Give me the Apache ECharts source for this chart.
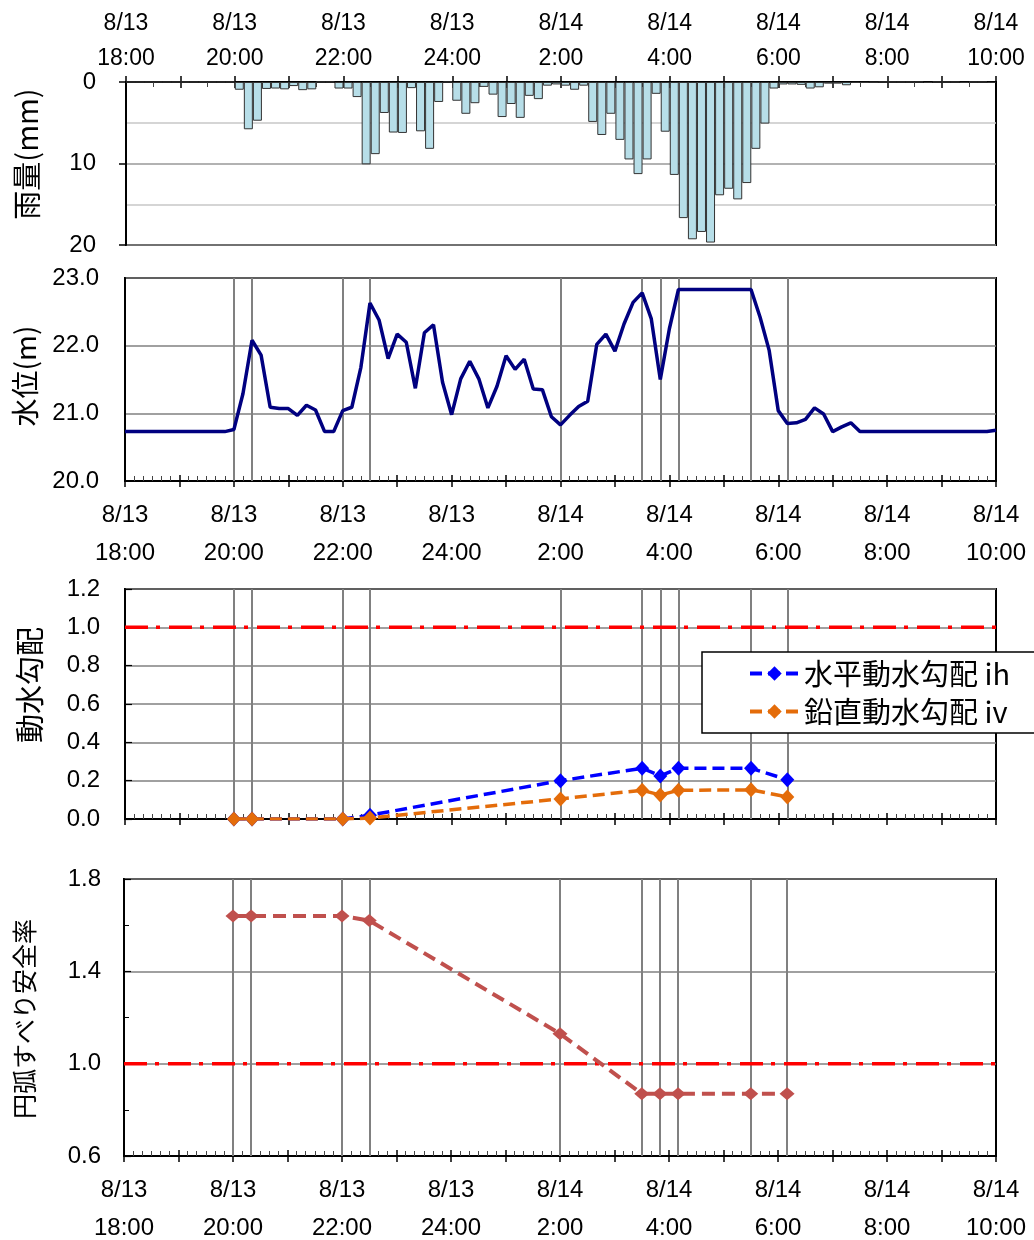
<!DOCTYPE html>
<html><head><meta charset="utf-8">
<script src="https://cdn.jsdelivr.net/npm/echarts@6/dist/echarts.min.js"></script>
<style>html,body{margin:0;padding:0;background:#fff}#c{width:1034px;height:1240px}</style>
</head><body><div id="c"></div><script>
// x positions are minutes after 8/13 18:00
const tickLabels = ['8/13\n18:00','8/13\n20:00','8/13\n22:00','8/13\n24:00','8/14\n2:00','8/14\n4:00','8/14\n6:00','8/14\n8:00','8/14\n10:00'];
// 10-minute rainfall (mm), 18:00 .. 9:50
const rainfall10min = [
 0,0,0,0,0,0,0,0,0,0,0,0,
 0.95,5.8,4.75,0.85,0.8,0.9,
 0.5,1.0,0.9,0,0,0.8,
 0.8,1.85,10.1,8.85,3.8,6.2,
 6.25,0.75,6.05,8.2,2.45,0,
 2.3,3.9,2.6,0.6,1.55,4.3,
 2.7,4.4,1.7,2.1,0.45,0.3,
 0.45,0.95,0.45,4.9,6.5,3.9,
 7.1,9.5,11.3,9.5,1.45,6.1,
 11.4,16.7,19.3,18.4,19.7,13.9,
 13.1,14.4,12.4,8.2,5.1,0.8,
 0.3,0.3,0.35,0.8,0.65,0.2,
 0.2,0.4,0.1,0.1,0.05,0,
 0,0,0,0,0.1,0,
 0,0,0.1,0,0,0.1];
// water level (m) every 10 minutes, 18:00 .. 10:00
const waterLevel = [
 20.73,20.73,20.73,20.73,20.73,20.73,20.73,20.73,20.73,20.73,20.73,20.73,
 20.76,21.29,22.08,21.86,21.09,21.07,
 21.07,20.97,21.12,21.05,20.73,20.73,
 21.04,21.09,21.68,22.63,22.38,21.81,
 22.17,22.05,21.37,22.19,22.31,21.46,
 20.98,21.51,21.77,21.51,21.08,21.40,
 21.85,21.65,21.80,21.36,21.35,20.95,
 20.83,20.97,21.10,21.18,22.02,22.17,
 21.92,22.32,22.64,22.78,22.40,21.50,
 22.25,22.83,22.83,22.83,22.83,22.83,
 22.83,22.83,22.83,22.83,22.42,21.93,
 21.04,20.85,20.86,20.91,21.08,20.99,
 20.73,20.80,20.86,20.73,20.73,20.73,
 20.73,20.73,20.73,20.73,20.73,20.73,
 20.73,20.73,20.73,20.73,20.73,20.73,
 20.75];
// analysis times: 20:00, 20:20, 22:00, 22:30, 2:00, 3:30, 3:50, 4:10, 5:30, 6:10
const analysisMinutes = [120,140,240,270,480,570,590,610,690,730];
const gradientH = [0,0,0,0.02,0.2,0.265,0.225,0.265,0.265,0.205];
const gradientV = [0,0,0,0.005,0.105,0.15,0.125,0.15,0.152,0.115];
const safetyFactor = [1.64,1.64,1.64,1.62,1.13,0.87,0.87,0.87,0.87,0.87];
const thresholdValue = 1.0;
const seriesNames = ['水平動水勾配 ih','鉛直動水勾配 iv'];

const NUM = '"Liberation Sans", Arial, sans-serif';
const JP = '"Noto Sans CJK JP", sans-serif';
const fmt = v => (v % 120 === 0 ? tickLabels[v / 120] : '');
const dashDot = [23, 8, 4, 9];

function xMain(g, pos, showLabel, lh, margin, fs) {
  return { type:'value', gridIndex:g, position:pos, min:0, max:960, interval:60,
    axisLine:{show:true, onZero:false, lineStyle:{color:'#000', width:2}},
    axisTick:{show:true, inside:false, length:6, lineStyle:{color:'#000', width:1.5}},
    axisLabel:{show:showLabel, formatter:fmt, fontSize:fs, lineHeight:lh, margin:margin, color:'#000', fontFamily:NUM},
    splitLine:{show:false} };
}
function xMinor(g, pos, split) {
  return { type:'value', gridIndex:g, position:pos, min:0, max:960, interval:60,
    axisLine:{show:false, onZero:false},
    axisTick:{show:true, inside:true, length:6, lineStyle:{color:'#000', width:1.5}},
    minorTick:{show:true, splitNumber:split, length:5, lineStyle:{color:'#444', width:1}},
    axisLabel:{show:false}, splitLine:{show:false} };
}
const vLines = { silent:true, symbol:'none', z:1, label:{show:false},
  lineStyle:{color:'#808080', width:2, type:'solid'},
  emphasis:{disabled:true},
  data: analysisMinutes.map(m => ({xAxis:m})) };
const pairs = (xs, ys) => xs.map((x, i) => [x, ys[i]]);
const gridBase = {right:38, show:true, borderColor:'#000', borderWidth:2, outerBoundsMode:'none', containLabel:false};

const chart = echarts.init(document.getElementById('c'), null, {renderer:'canvas'});
chart.setOption({
  animation:false,
  backgroundColor:'#fff',
  grid:[
    Object.assign({left:126, top:82, height:163}, gridBase),
    Object.assign({left:125, top:278, height:203}, gridBase),
    Object.assign({left:125, top:589, height:230}, gridBase),
    Object.assign({left:124, top:879, height:277}, gridBase)
  ],
  xAxis:[
    xMain(0,'top',true,35,6,23), xMinor(0,'top',2),
    xMain(1,'bottom',true,38,15,24), xMinor(1,'bottom',6),
    xMain(2,'bottom',false,38,15,24), xMinor(2,'bottom',6),
    xMain(3,'bottom',true,38,15,24), xMinor(3,'bottom',6)
  ],
  yAxis:[
    { gridIndex:0, type:'value', min:0, max:20, interval:10, inverse:true,
      axisLine:{show:true, lineStyle:{color:'#000', width:2}},
      axisTick:{show:true, inside:false, length:7, lineStyle:{color:'#000', width:1.5}},
      minorTick:{show:false, splitNumber:2},
      axisLabel:{fontSize:24, margin:30, color:'#000', fontFamily:NUM},
      splitLine:{show:true, lineStyle:{color:'#999', width:1.5}},
      minorSplitLine:{show:true, lineStyle:{color:'#c8c8c8', width:1.5}} },
    { gridIndex:1, type:'value', min:20, max:23, interval:1,
      axisLine:{show:true, lineStyle:{color:'#000', width:2}},
      axisTick:{show:false},
      axisLabel:{fontSize:24, margin:26, color:'#000', fontFamily:NUM, formatter:v => v.toFixed(1)},
      splitLine:{show:true, lineStyle:{color:'#808080', width:1.5}} },
    { gridIndex:2, type:'value', min:0, max:1.2, interval:0.2,
      axisLine:{show:true, lineStyle:{color:'#000', width:2}},
      axisTick:{show:true, inside:true, length:7, lineStyle:{color:'#000', width:1.2}},
      axisLabel:{fontSize:24, margin:25, color:'#000', fontFamily:NUM, formatter:v => v.toFixed(1)},
      splitLine:{show:true, lineStyle:{color:'#808080', width:1.5}} },
    { gridIndex:3, type:'value', min:0.6, max:1.8, interval:0.4,
      axisLine:{show:true, lineStyle:{color:'#000', width:2}},
      axisTick:{show:true, inside:true, length:7, lineStyle:{color:'#000', width:1.2}},
      minorTick:{show:true, splitNumber:2, length:5, lineStyle:{color:'#000', width:1}},
      axisLabel:{fontSize:24, margin:23, color:'#000', fontFamily:NUM, formatter:v => v.toFixed(1)},
      splitLine:{show:true, lineStyle:{color:'#808080', width:1.5}} }
  ],
  legend:{
    data:seriesNames, orient:'vertical', left:702, top:652,
    padding:[7,26,7,46], itemGap:9, itemWidth:49, itemHeight:18,
    backgroundColor:'#fff', borderColor:'#000', borderWidth:1.5, borderRadius:0,
    lineStyle:{width:4},
    textStyle:{fontSize:29, color:'#000', fontFamily:JP, lineHeight:29}
  },
  graphic:[
    {type:'text', x:27, y:154, rotation:Math.PI/2, style:{text:'雨量(mm)', font:'29px "Noto Sans CJK JP"', fill:'#000', textAlign:'center', textVerticalAlign:'middle'}},
    {type:'text', x:25, y:376, rotation:Math.PI/2, style:{text:'水位(m)', font:'28px "Noto Sans CJK JP"', fill:'#000', textAlign:'center', textVerticalAlign:'middle'}},
    {type:'text', x:30, y:685, rotation:Math.PI/2, style:{text:'動水勾配', font:'29px "Noto Sans CJK JP"', fill:'#000', textAlign:'center', textVerticalAlign:'middle'}},
    {type:'text', x:24, y:1019, rotation:Math.PI/2, style:{text:'円弧すべり安全率', font:'25px "Noto Sans CJK JP"', fill:'#000', textAlign:'center', textVerticalAlign:'middle'}}
  ],
  series:[
    { name:'雨量', type:'bar', xAxisIndex:0, yAxisIndex:0, barWidth:9,
      data: rainfall10min.map((v, i) => [i * 10 + 5, v]),
      itemStyle:{color:'#B7DEE8', borderColor:'#333', borderWidth:1} },
    { name:'水位', type:'line', xAxisIndex:2, yAxisIndex:1, z:3, symbol:'none',
      data: waterLevel.map((v, i) => [i * 10, v]),
      lineStyle:{color:'#000080', width:3.5}, markLine: vLines },
    { name:'基準2', type:'line', xAxisIndex:4, yAxisIndex:2, z:2, symbol:'none', silent:true,
      data: [[0, thresholdValue],[960, thresholdValue]],
      lineStyle:{color:'#FF0000', width:3.5, type:dashDot} },
    { name:seriesNames[0], type:'line', xAxisIndex:4, yAxisIndex:2, z:3,
      data: pairs(analysisMinutes, gradientH), color:'#0000FF',
      symbol:'diamond', symbolSize:[14,15],
      lineStyle:{color:'#0000FF', width:3.5, type:[12,6]},
      itemStyle:{color:'#0000FF'}, markLine: vLines },
    { name:seriesNames[1], type:'line', xAxisIndex:4, yAxisIndex:2, z:4,
      data: pairs(analysisMinutes, gradientV), color:'#E46C0A',
      symbol:'diamond', symbolSize:[14,15],
      lineStyle:{color:'#E46C0A', width:3.5, type:[12,6]},
      itemStyle:{color:'#E46C0A'} },
    { name:'基準3', type:'line', xAxisIndex:6, yAxisIndex:3, z:2, symbol:'none', silent:true,
      data: [[0, thresholdValue],[960, thresholdValue]],
      lineStyle:{color:'#FF0000', width:3.5, type:dashDot} },
    { name:'円弧すべり安全率', type:'line', xAxisIndex:6, yAxisIndex:3, z:3,
      data: pairs(analysisMinutes, safetyFactor), color:'#C0504D',
      symbol:'diamond', symbolSize:[15,13],
      lineStyle:{color:'#C0504D', width:4, type:[13,7]},
      itemStyle:{color:'#C0504D'}, markLine: vLines }
  ]
});
</script></body></html>
